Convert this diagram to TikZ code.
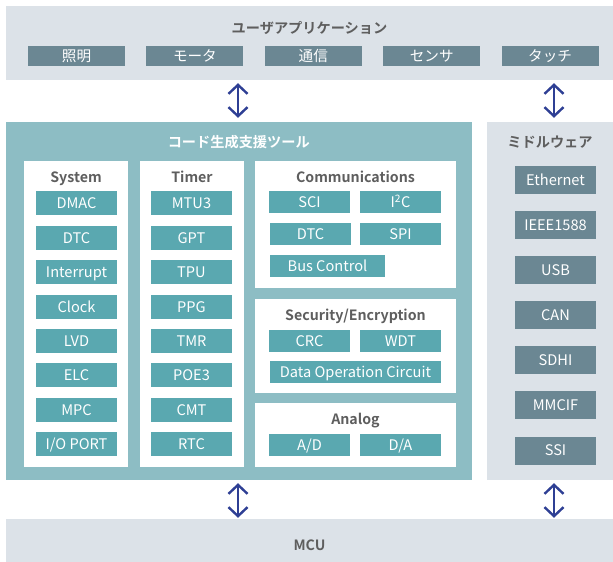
\documentclass[tikz,border=0pt]{standalone}
\usepackage{fontspec}
\setmainfont{Noto Sans CJK JP}[BoldFont={Noto Sans CJK JP Bold}]
\usetikzlibrary{arrows.meta}
\definecolor{paleblue}{HTML}{DCE2E8}
\definecolor{toolteal}{HTML}{8DBDC4}
\definecolor{itemteal}{HTML}{5AA8B0}
\definecolor{itemslate}{HTML}{6B8793}
\definecolor{linkblue}{HTML}{2E3F94}
\definecolor{titlegray}{HTML}{5E5E5E}
\tikzset{
  >={Straight Barb[length=9pt,width=19pt]},
  layer/.style={fill=paleblue,inner sep=0pt},
  toolbox/.style={fill=toolteal,inner sep=0pt},
  panel/.style={fill=white,inner sep=0pt},
  title/.style={inner sep=0pt,text height=10.4pt,text depth=0pt,
    font=\bfseries\fontsize{14.2}{16}\selectfont,text=titlegray},
  block/.style={fill=itemteal,text=white,inner sep=0pt,text height=10.6pt,text depth=0pt,
    font=\fontsize{14.6}{16}\selectfont},
  mwblock/.style={block,fill=itemslate},
  link/.style={<->,linkblue,line width=2.4pt}
}

\begin{document}
\begin{tikzpicture}[x=1pt,y=-1pt]
  \useasboundingbox (0,0) rectangle (613,562);
  % layers
  \node[layer,minimum width=607,minimum height=74] (app) at (309.5,43) {};
  \node[toolbox,minimum width=465.5,minimum height=358] (gen) at (238.75,301) {};
  \node[layer,minimum width=126,minimum height=358] (mw) at (550,301) {};
  \node[layer,minimum width=607,minimum height=43] (mcu) at (309.5,540.5) {};
  \node[title] (apptitle) at (309.5,28) {ユーザアプリケーション};
  \node[title,text=white] (gentitle) at (238.75,142) {コード生成支援ツール};
  \node[title] (mwtitle) at (550,142) {ミドルウェア};
  \node[title] (mcutitle) at (309.5,545) {MCU};
  % applications
  \foreach \lbl [count=\i] in {照明,モータ,通信,センサ,タッチ}
    \node[mwblock,minimum width=97,minimum height=20] (app\i) at ({76.5+118.4*(\i-1)},56) {\lbl};
  % panels
  \node[panel,minimum width=104,minimum height=306] (sys) at (76,314) {};
  \node[panel,minimum width=104,minimum height=306] (tim) at (192,314) {};
  \node[panel,minimum width=201,minimum height=127] (com) at (355.5,224.5) {};
  \node[panel,minimum width=201,minimum height=94] (sec) at (355.5,346) {};
  \node[panel,minimum width=201,minimum height=64] (ana) at (355.5,435) {};
  \node[title] (systitle) at (76,177) {System};
  \node[title] (timtitle) at (192,177) {Timer};
  \node[title] (comtitle) at (355.5,177) {Communications};
  \node[title] (sectitle) at (355.5,315) {Security/Encryption};
  \node[title] (anatitle) at (355.5,419) {Analog};
  % system and timer
  \foreach \lbl/\y [count=\i] in {DMAC/203,DTC/238,Interrupt/272,Clock/307,LVD/341,ELC/375,MPC/410,{I/O PORT}/444}
    \node[block,minimum width=81,minimum height=24] (sys\i) at (76.5,\y) {\lbl};
  \foreach \lbl/\y [count=\i] in {MTU3/203,GPT/238,TPU/272,PPG/307,TMR/341,POE3/375,CMT/410,RTC/444}
    \node[block,minimum width=81,minimum height=24] (tim\i) at (191.5,\y) {\lbl};
  % communications
  \node[block,minimum width=81,minimum height=22] (sci) at (309.5,202) {SCI};
  \node[block,minimum width=81,minimum height=22] (iic) at (400.5,202) {I\textsuperscript{2}C};
  \node[block,minimum width=81,minimum height=22] (dtc) at (310.5,234) {DTC};
  \node[block,minimum width=81,minimum height=22] (spi) at (400.5,234) {SPI};
  \node[block,minimum width=115,minimum height=22] (bus) at (327.5,266) {Bus Control};
  % security
  \node[block,minimum width=81,minimum height=22] (crc) at (309.5,341) {CRC};
  \node[block,minimum width=81,minimum height=22] (wdt) at (400.5,341) {WDT};
  \node[block,minimum width=171,minimum height=22] (doc) at (355.5,372) {Data Operation Circuit};
  % analog
  \node[block,minimum width=81,minimum height=22] (adc) at (309.5,445) {A/D};
  \node[block,minimum width=81,minimum height=22] (dac) at (400.5,445) {D/A};
  % middleware
  \foreach \lbl/\y [count=\i] in {Ethernet/180,IEEE1588/225,USB/270,CAN/315,SDHI/360,MMCIF/405,SSI/450.5}
    \node[mwblock,minimum width=81,minimum height=28] (mw\i) at (555.5,\y) {\lbl};
  % links
  \coordinate (ax1) at (238,0);
  \coordinate (ax2) at (554,0);
  \draw[link,shorten <=3pt,shorten >=4pt] (app.south -| ax1) -- (gen.north -| ax1);
  \draw[link,shorten <=3pt,shorten >=4pt] (app.south -| ax2) -- (mw.north -| ax2);
  \draw[link,shorten <=3pt,shorten >=1pt] (gen.south -| ax1) -- (mcu.north -| ax1);
  \draw[link,shorten <=3pt,shorten >=1pt] (mw.south -| ax2) -- (mcu.north -| ax2);
\end{tikzpicture}
\end{document}
